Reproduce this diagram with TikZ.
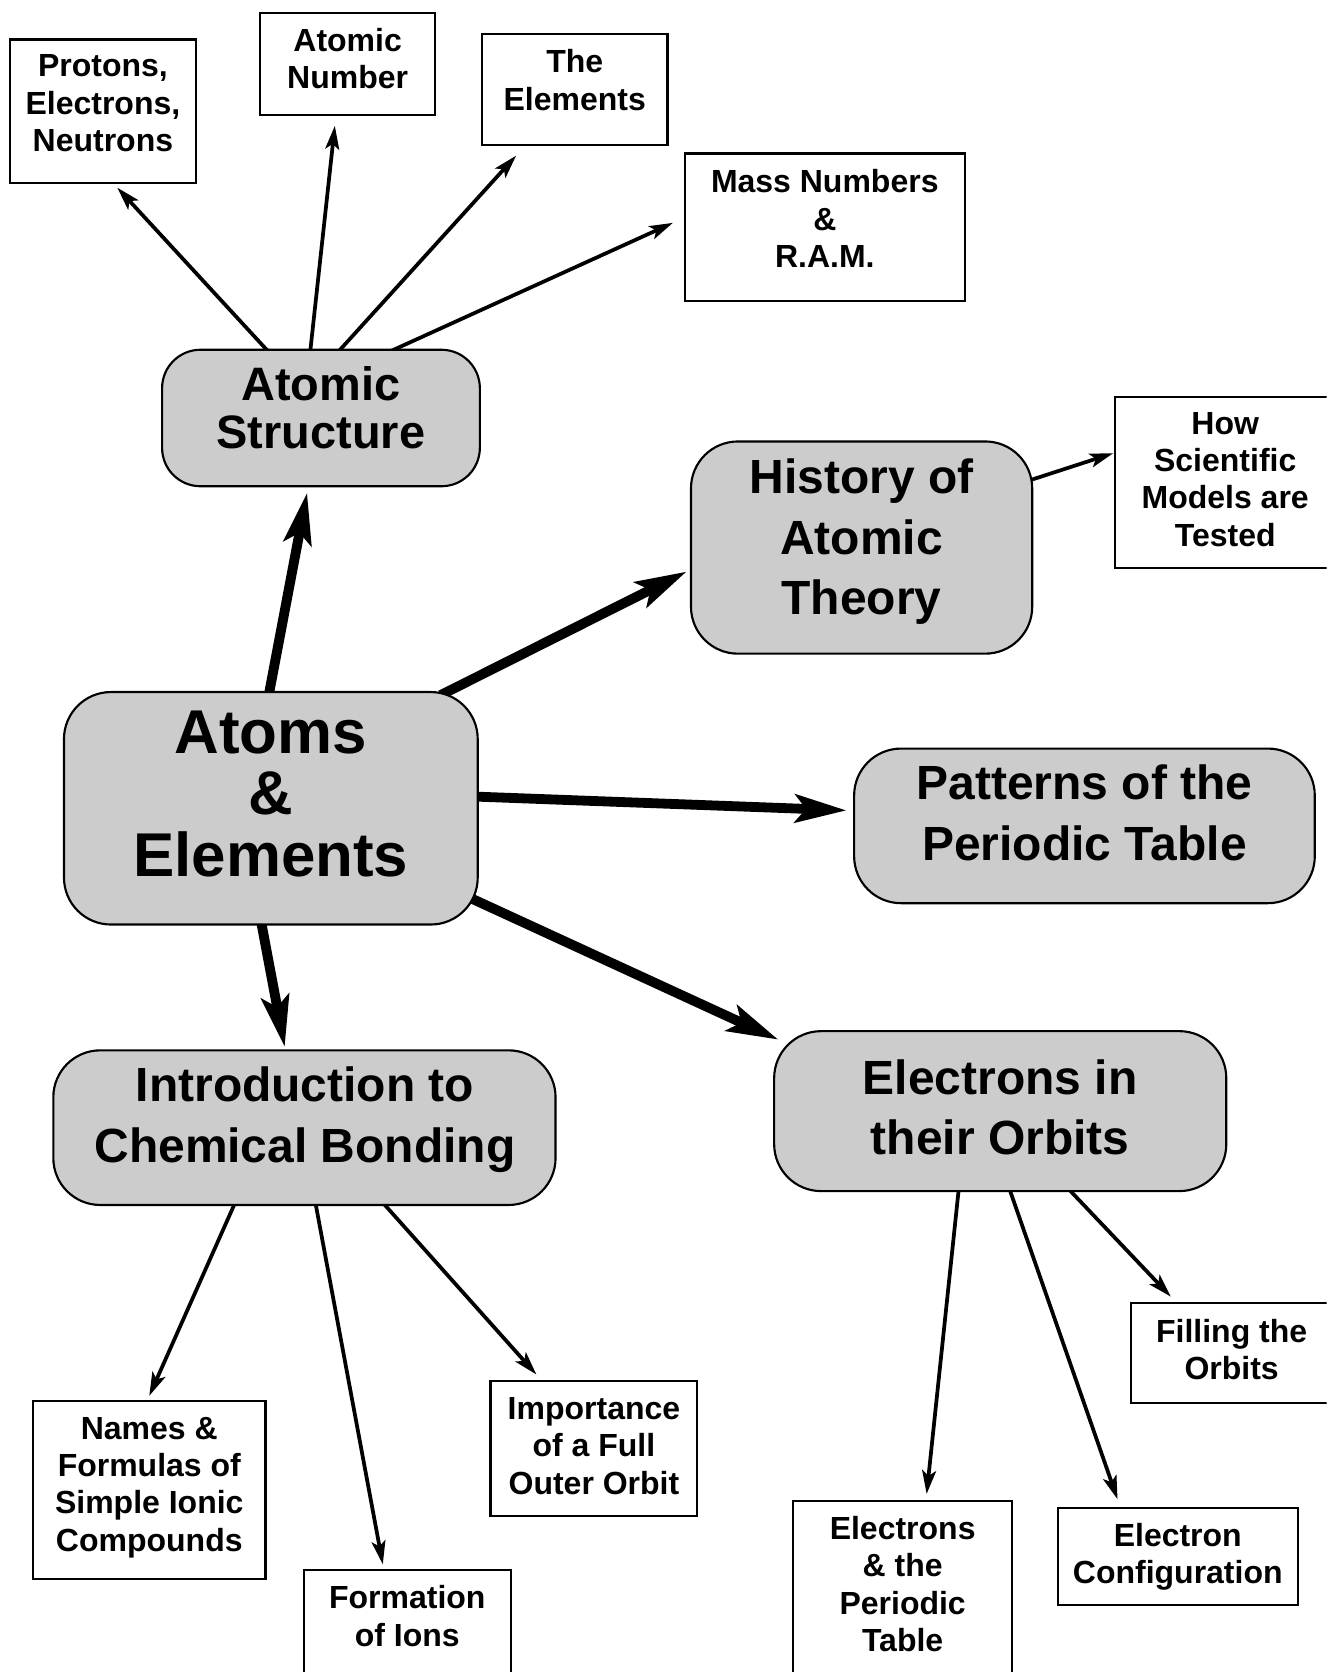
\documentclass[tikz,border=0pt]{standalone}
\usepackage{fontspec}
\setmainfont{Liberation Sans}
\usetikzlibrary{arrows.meta,calc,backgrounds}
\definecolor{boxgrey}{RGB}{204,204,204}
\begin{document}
\begin{tikzpicture}[x=0.5pt,y=-0.5pt,
  smallbox/.style={draw, line width=1pt, rectangle, inner sep=0pt, fill=white},
  bigbox/.style={draw, line width=1pt, rectangle, fill=boxgrey, rounded corners=22pt, inner sep=0pt},
  smalltxt/.style={align=center, inner sep=0pt, font=\bfseries\fontsize{15}{17.5}\selectfont},
  bigtxt/.style={align=center, inner sep=0pt, font=\bfseries\fontsize{22.5}{28.5}\selectfont},
  thinarr/.style={line width=1.75pt, -{Stealth[length=11pt,width=6.5pt,inset=2.5pt]}},
  thickarr/.style={line width=4.6pt, -{Stealth[length=24pt,width=13pt,inset=5pt]}}
]
\useasboundingbox (0,0) rectangle (1244,1568);
\clip (0,0) rectangle (1244,1568);

% small boxes
\node[smallbox, minimum width=87.5pt, minimum height=67.5pt] (prot) at (96.5,104.5) {};
\node[smalltxt] (protT) at (96.5,97) {Protons,\\Electrons,\\Neutrons};
\node[smallbox, minimum width=82pt, minimum height=48pt] (an) at (326,60) {};
\node[smalltxt] (anT) at (326,55) {Atomic\\Number};
\node[smallbox, minimum width=87pt, minimum height=52pt] (el) at (539,84) {};
\node[smalltxt] (elT) at (539,75) {The\\Elements};
\node[smallbox, minimum width=131.5pt, minimum height=69pt] (mass) at (773.5,213) {};
\node[smalltxt] (massT) at (773.5,205) {Mass Numbers\\\&\\R.A.M.};
\node[smallbox, minimum width=103pt, minimum height=80.5pt] (how) at (1149,452.5) {};
\node[smalltxt] (howT) at (1149,449.5) {How\\Scientific\\Models are\\Tested};
\node[smallbox, minimum width=94pt, minimum height=47pt] (fill) at (1155,1269) {};
\node[smalltxt] (fillT) at (1155,1265.5) {Filling the\\Orbits};
\node[smallbox, minimum width=109pt, minimum height=83.5pt] (names) at (140,1397.5) {};
\node[smalltxt] (namesT) at (140,1395) {Names \&\\Formulas of\\Simple Ionic\\Compounds};
\node[smallbox, minimum width=97pt, minimum height=74pt] (form) at (382,1546) {};
\node[smalltxt] (formT) at (382,1515.5) {Formation\\of Ions};
\node[smallbox, minimum width=97pt, minimum height=63.5pt] (imp) at (557,1358.5) {};
\node[smalltxt] (impT) at (557,1356) {Importance\\of a Full\\Outer Orbit};
\node[smallbox, minimum width=102.5pt, minimum height=106pt] (ep) at (846.5,1514) {};
\node[smalltxt] (epT) at (846.5,1485.5) {Electrons\\\& the\\Periodic\\Table};
\node[smallbox, minimum width=112.5pt, minimum height=45.5pt] (ec) at (1104.5,1459.5) {};
\node[smalltxt] (ecT) at (1104.5,1460) {Electron\\Configuration};

% big boxes
\node[bigbox, rounded corners=18pt, minimum width=149pt, minimum height=64pt] (as) at (301,392) {};
\node[align=center, inner sep=0pt, font=\bfseries\fontsize{22}{22.5}\selectfont] (asT) at (301,382.5) {Atomic\\Structure};
\node[bigbox, minimum width=160pt, minimum height=99.5pt] (hist) at (808,513.5) {};
\node[bigtxt] (histT) at (808,508) {History of\\Atomic\\Theory};
\node[bigbox, minimum width=194pt, minimum height=109pt] (atoms) at (254,758) {};
\node[align=center, inner sep=0pt, font=\bfseries\fontsize{29}{28.75}\selectfont] (atomsT) at (254,744.5) {Atoms\\\&\\Elements};
\node[bigbox, minimum width=216pt, minimum height=72.5pt] (pat) at (1017,774.5) {};
\node[bigtxt] (patT) at (1017,762.5) {Patterns of the\\Periodic Table};
\node[bigbox, minimum width=235.5pt, minimum height=72.5pt] (intro) at (285.5,1057.5) {};
\node[bigtxt] (introT) at (286,1050) {Introduction to\\Chemical Bonding};
\node[bigbox, minimum width=212pt, minimum height=75pt] (eo) at (938,1042) {};
\node[bigtxt] (eoT) at (938,1038.5) {Electrons in\\their Orbits};

\begin{pgfonlayer}{background}
% from Atomic Structure
\draw[thinarr] ($(as.north)+(-50,2)$) -- ($(prot.south)+(13.5,3)$);
\draw[thinarr] ($(as.north)+(-10,2)$) -- ($(an.south)+(-12,9)$);
\draw[thinarr] ($(as.north)+(17,2)$) -- ($(el.south)+(-55,9)$);
\draw[thinarr] ($(as.north)+(66,2)$) -- ($(mass.west)+(-10,-4)$);
% from History
\draw[thinarr] ($(hist.east)+(-2,-63.5)$) -- ($(how.west)+(-1,-27.5)$);
% from Intro
\draw[thinarr] ($(intro.south)+(-65.5,-2)$) -- ($(names.north)+(0,-4)$);
\draw[thinarr] ($(intro.south)+(10.5,-2)$) -- ($(form.north)+(-23,-4)$);
\draw[thinarr] ($(intro.south)+(74.5,-2)$) -- ($(imp.north)+(-54,-5)$);
% from Electrons in their Orbits
\draw[thinarr] ($(eo.south)+(-39,-2)$) -- ($(ep.north)+(22.5,-6)$);
\draw[thinarr] ($(eo.south)+(9,-2)$) -- ($(ec.north)+(-56.5,-7)$);
\draw[thinarr] ($(eo.south)+(65,-2)$) -- ($(fill.north)+(-57,-5)$);
% thick arrows from Atoms & Elements
\draw[thickarr] ($(atoms.north)+(-2,4)$) -- ($(as.south)+(-13,5)$);
\draw[thickarr] ($(atoms.north)+(159,4)$) -- ($(hist.west)+(-3,22.5)$);
\draw[thickarr] ($(atoms.east)+(-4,-11)$) -- ($(pat.west)+(-6,-14.5)$);
\draw[thickarr] ($(atoms.east)+(-6,85)$) -- ($(eo.west)+(5,-67)$);
\draw[thickarr] ($(atoms.south)+(-9,-3)$) -- ($(intro.north)+(-18.5,-2)$);
\end{pgfonlayer}
\end{tikzpicture}
\end{document}
